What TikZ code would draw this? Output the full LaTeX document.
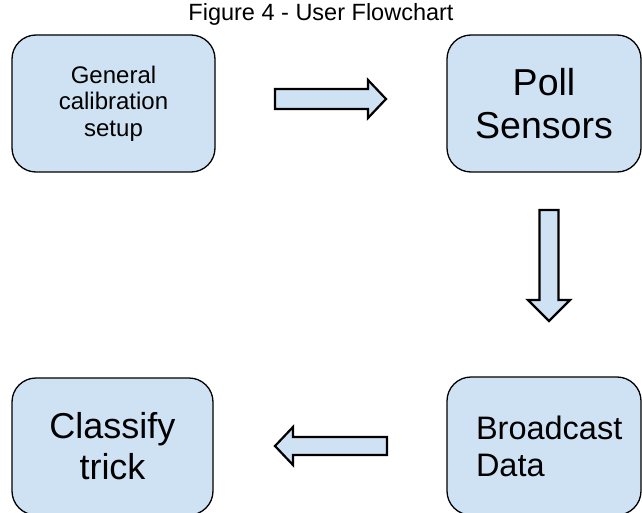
\documentclass[tikz,border=0pt]{standalone}
\usepackage{fontspec}
\setmainfont{Liberation Sans}
\definecolor{boxblue}{HTML}{CFE2F3}
\tikzset{
  flowbox/.style={draw=black, line width=1.3pt, fill=boxblue, rounded corners=24pt,
    rectangle, inner sep=0pt, align=center},
  blockarrow/.style={draw=black, line width=2.2pt, fill=boxblue, line join=miter},
}
\begin{document}
\begin{tikzpicture}[x=1pt,y=-1pt]
\useasboundingbox (0,0) rectangle (642,513);
\clip (0,0) rectangle (642,513);
\fill[white] (0,0) rectangle (642,513);

\node[font=\fontsize{23.5}{28}\selectfont, inner sep=0pt] (title) at (321,14) {Figure 4 - User Flowchart};

\node[flowbox, minimum width=203pt, minimum height=137pt,
      font=\fontsize{24}{26.5}\selectfont] (gen) at (113.5,103.5)
      {General\\calibration\\setup};
\node[flowbox, minimum width=194pt, minimum height=137pt,
      font=\fontsize{37.5}{43}\selectfont] (poll) at (544,103.5)
      {\raisebox{-2pt}{Poll}\\\raisebox{-2pt}{Sensors}};
\node[flowbox, minimum width=194pt, minimum height=138pt, text width=136pt, align=left,
      font=\fontsize{32.5}{37}\selectfont] (bcast) at (544,446)
      {Broadcast\\Data};
\node[flowbox, minimum width=201pt, minimum height=137pt,
      font=\fontsize{36}{41}\selectfont] (cls) at (112.5,446.5)
      {Classify\\trick};

% right arrow
\draw[blockarrow] (275,89) -- (368,89) -- (368,80) -- (386,99) -- (368,118) -- (368,109) -- (275,109) -- cycle;
% down arrow
\draw[blockarrow] (539.5,210) -- (558.5,210) -- (558.5,300) -- (570,300) -- (549,321) -- (528,300) -- (539.5,300) -- cycle;
% left arrow
\draw[blockarrow] (387,437) -- (293,437) -- (293,427) -- (275,446) -- (293,465) -- (293,455) -- (387,455) -- cycle;
\end{tikzpicture}
\end{document}
